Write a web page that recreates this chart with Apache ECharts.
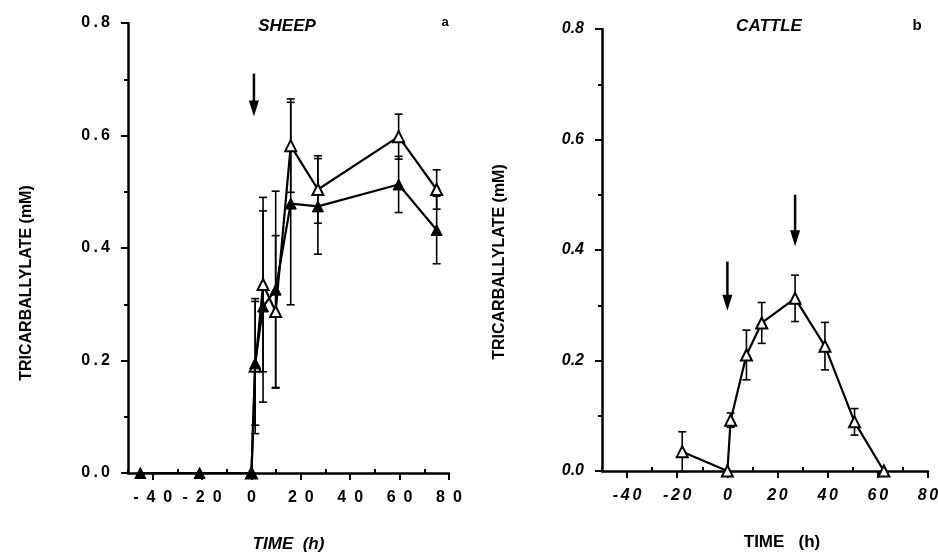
<!DOCTYPE html>
<html>
<head>
<meta charset="utf-8">
<script src="https://cdn.jsdelivr.net/npm/echarts@6/dist/echarts.min.js"></script>
<style>
html,body{margin:0;padding:0;background:#fff;}
#chart{width:938px;height:552px;}
</style>
</head>
<body>
<div id="chart"></div>
<script>
// ---- data ----
const xTicks = [-40, -20, 0, 20, 40, 60, 80];
const xMinorTicks = [-50, -30, -10, 10, 30, 50, 70];
const yTicks = [0, 0.2, 0.4, 0.6, 0.8];

// Panel a: SHEEP
const sheepFilledTime = [-45, -21, 0, 1.5, 4.7, 9.8, 15.9, 26.9, 59.6, 75];
const sheepFilled     = [0, 0, 0, 0.195, 0.296, 0.326, 0.479, 0.474, 0.513, 0.432];
const sheepFilledErr  = [0, 0, 0, 0.11, 0.17, 0.175, 0.18, 0.085, 0.05, 0.06];
const sheepOpenTime   = [0, 1.5, 4.7, 9.8, 15.9, 26.9, 59.6, 75];
const sheepOpen       = [0, 0.19, 0.335, 0.287, 0.582, 0.504, 0.598, 0.504];
const sheepOpenErr    = [0, 0.12, 0.155, 0.135, 0.083, 0.06, 0.04, 0.035];
const sheepArrowTime  = [1];
const sheepArrowTop   = [0.71];
const sheepArrowTip   = [0.634];

// Panel b: CATTLE
const cattleTime = [-18, 0, 1.3, 7.6, 13.7, 27, 38.9, 50.7, 62.4];
const cattleOpen = [0.035, 0, 0.092, 0.21, 0.268, 0.3125, 0.226, 0.089, 0];
const cattleErr  = [0.036, 0, 0.013, 0.045, 0.037, 0.042, 0.043, 0.024, 0];
const cattleArrowTime = [0, 27];
const cattleArrowTop  = [0.379, 0.5];
const cattleArrowTip  = [0.29, 0.407];

// ---- helpers ----
const FONT = "'Liberation Sans', Arial, sans-serif";
function pairs(xs, ys){ return xs.map((x,i)=>[x, ys[i]]); }
function errData(xs, ys, es){
  const out = [];
  xs.forEach((x,i)=>{ if (es[i] > 0) out.push([x, ys[i]-es[i], ys[i]+es[i]]); });
  return out;
}
function arrowData(ts, tops, tips){ return ts.map((t,i)=>[t, tops[i], tips[i]]); }

function errRender(params, api){
  const lo = api.coord([api.value(0), api.value(1)]);
  const hi = api.coord([api.value(0), api.value(2)]);
  const cw = 4;
  const st = {stroke:'#000', lineWidth:1.6};
  return {type:'group', children:[
    {type:'line', shape:{x1:lo[0], y1:lo[1], x2:hi[0], y2:hi[1]}, style:st},
    {type:'line', shape:{x1:hi[0]-cw, y1:hi[1], x2:hi[0]+cw, y2:hi[1]}, style:st},
    {type:'line', shape:{x1:lo[0]-cw, y1:lo[1], x2:lo[0]+cw, y2:lo[1]}, style:st}
  ]};
}
function arrowRender(params, api){
  const top = api.coord([api.value(0), api.value(1)]);
  const tip = api.coord([api.value(0), api.value(2)]);
  const hl = 16, hw = 5;
  return {type:'group', children:[
    {type:'line', shape:{x1:top[0], y1:top[1], x2:tip[0], y2:tip[1]-hl+2}, style:{stroke:'#000', lineWidth:2.5}},
    {type:'polygon', shape:{points:[[tip[0]-hw, tip[1]-hl],[tip[0]+hw, tip[1]-hl],[tip[0], tip[1]]]}, style:{fill:'#000'}}
  ]};
}

function spaced(v, sp){ return String(v).split('').join(sp); }

function makeX(gridIndex, italic, sp, nameText, nameStyle){
  return {
    type:'value', gridIndex, min:-50, max:80,
    axisLine:{show:true, onZero:false, lineStyle:{color:'#000', width:2.5}},
    axisTick:{show:true, customValues:xTicks, length:7, lineStyle:{color:'#000', width:2}},
    axisLabel:{show:true, customValues:xTicks, margin:17, color:'#000', fontFamily:FONT, fontWeight:'bold',
      fontStyle: italic ? 'italic' : 'normal', fontSize:16,
      formatter: v => spaced(v, sp)},
    splitLine:{show:false},
    name:nameText, nameLocation:'middle', nameGap:63,
    nameTextStyle:Object.assign({color:'#000', fontFamily:FONT, fontWeight:'bold', fontSize:17}, nameStyle)
  };
}
function makeXMinor(gridIndex){
  return {
    type:'value', gridIndex, min:-50, max:80,
    axisLine:{show:false},
    axisTick:{show:true, customValues:xMinorTicks, length:4, lineStyle:{color:'#000', width:2}},
    axisLabel:{show:false}, splitLine:{show:false}
  };
}
function makeY(gridIndex, italic, sp){
  return {
    type:'value', gridIndex, min:0, max:0.8, interval:0.2,
    axisLine:{show:true, onZero:false, lineStyle:{color:'#000', width:2.5}},
    axisTick:{show:true, length:7, lineStyle:{color:'#000', width:2}},
    minorTick:{show:true, splitNumber:2, length:4, lineStyle:{color:'#000', width:2}},
    axisLabel:{margin:18, color:'#000', fontFamily:FONT, fontWeight:'bold', fontStyle: italic ? 'italic' : 'normal', fontSize:16,
      formatter: v => spaced(v.toFixed(1), sp)},
    splitLine:{show:false}
  };
}

const chart = echarts.init(document.getElementById('chart'), null, {renderer:'canvas'});
const option = {
  backgroundColor:'#fff',
  animation:false,
  grid:[
    {left:128, top:23, width:321, height:450, outerBoundsMode:'none', containLabel:false},
    {left:602, top:29, width:326, height:442, outerBoundsMode:'none', containLabel:false}
  ],
  xAxis:[
    makeX(0, false, '\u2002', 'TIME  (h)', {fontStyle:'italic'}),
    makeX(1, true, '\u2006', 'TIME   (h)', {fontStyle:'normal', padding:[0,0,0,34]}),
    makeXMinor(0),
    makeXMinor(1)
  ],
  yAxis:[ makeY(0, false, '\u2009'), makeY(1, true, '') ],
  graphic:[
    {type:'text', x:287, y:26, style:{text:'SHEEP', font:"italic bold 17px 'Liberation Sans', Arial", fill:'#000', textAlign:'center', textVerticalAlign:'middle'}},
    {type:'text', x:769, y:26, style:{text:'CATTLE', font:"italic bold 17px 'Liberation Sans', Arial", fill:'#000', textAlign:'center', textVerticalAlign:'middle'}},
    {type:'text', x:445, y:22, style:{text:'a', font:"bold 13px 'Liberation Sans', Arial", fill:'#000', textAlign:'center', textVerticalAlign:'middle'}},
    {type:'text', x:917, y:26, style:{text:'b', font:"bold 15px 'Liberation Sans', Arial", fill:'#000', textAlign:'center', textVerticalAlign:'middle'}},
    {type:'text', x:27, y:283, rotation:Math.PI/2, style:{text:'TRICARBALLYLATE (mM)', font:"bold 16px 'Liberation Sans', Arial", fill:'#000', textAlign:'center', textVerticalAlign:'middle'}},
    {type:'text', x:500, y:262, rotation:Math.PI/2, style:{text:'TRICARBALLYLATE (mM)', font:"bold 16px 'Liberation Sans', Arial", fill:'#000', textAlign:'center', textVerticalAlign:'middle'}}
  ],
  series:[
    {type:'custom', xAxisIndex:0, yAxisIndex:0, renderItem:errRender, data:errData(sheepOpenTime, sheepOpen, sheepOpenErr), z:2},
    {type:'custom', xAxisIndex:0, yAxisIndex:0, renderItem:errRender, data:errData(sheepFilledTime, sheepFilled, sheepFilledErr), z:2},
    {type:'line', xAxisIndex:0, yAxisIndex:0, data:pairs(sheepOpenTime, sheepOpen), symbol:'triangle', symbolSize:11,
      showAllSymbol:true, lineStyle:{color:'#000', width:2.2}, itemStyle:{color:'#fff', borderColor:'#000', borderWidth:2}, z:3},
    {type:'line', xAxisIndex:0, yAxisIndex:0, data:pairs(sheepFilledTime, sheepFilled), symbol:'triangle', symbolSize:11,
      showAllSymbol:true, lineStyle:{color:'#000', width:2.2}, itemStyle:{color:'#000', borderColor:'#000', borderWidth:1}, z:4},
    {type:'custom', xAxisIndex:0, yAxisIndex:0, renderItem:arrowRender, data:arrowData(sheepArrowTime, sheepArrowTop, sheepArrowTip), z:5},

    {type:'custom', xAxisIndex:1, yAxisIndex:1, renderItem:errRender, data:errData(cattleTime, cattleOpen, cattleErr), z:2},
    {type:'line', xAxisIndex:1, yAxisIndex:1, data:pairs(cattleTime, cattleOpen), symbol:'triangle', symbolSize:11,
      showAllSymbol:true, lineStyle:{color:'#000', width:2.2}, itemStyle:{color:'#fff', borderColor:'#000', borderWidth:2}, z:3},
    {type:'custom', xAxisIndex:1, yAxisIndex:1, renderItem:arrowRender, data:arrowData(cattleArrowTime, cattleArrowTop, cattleArrowTip), z:5}
  ]
};
chart.setOption(option);
</script>
</body>
</html>
